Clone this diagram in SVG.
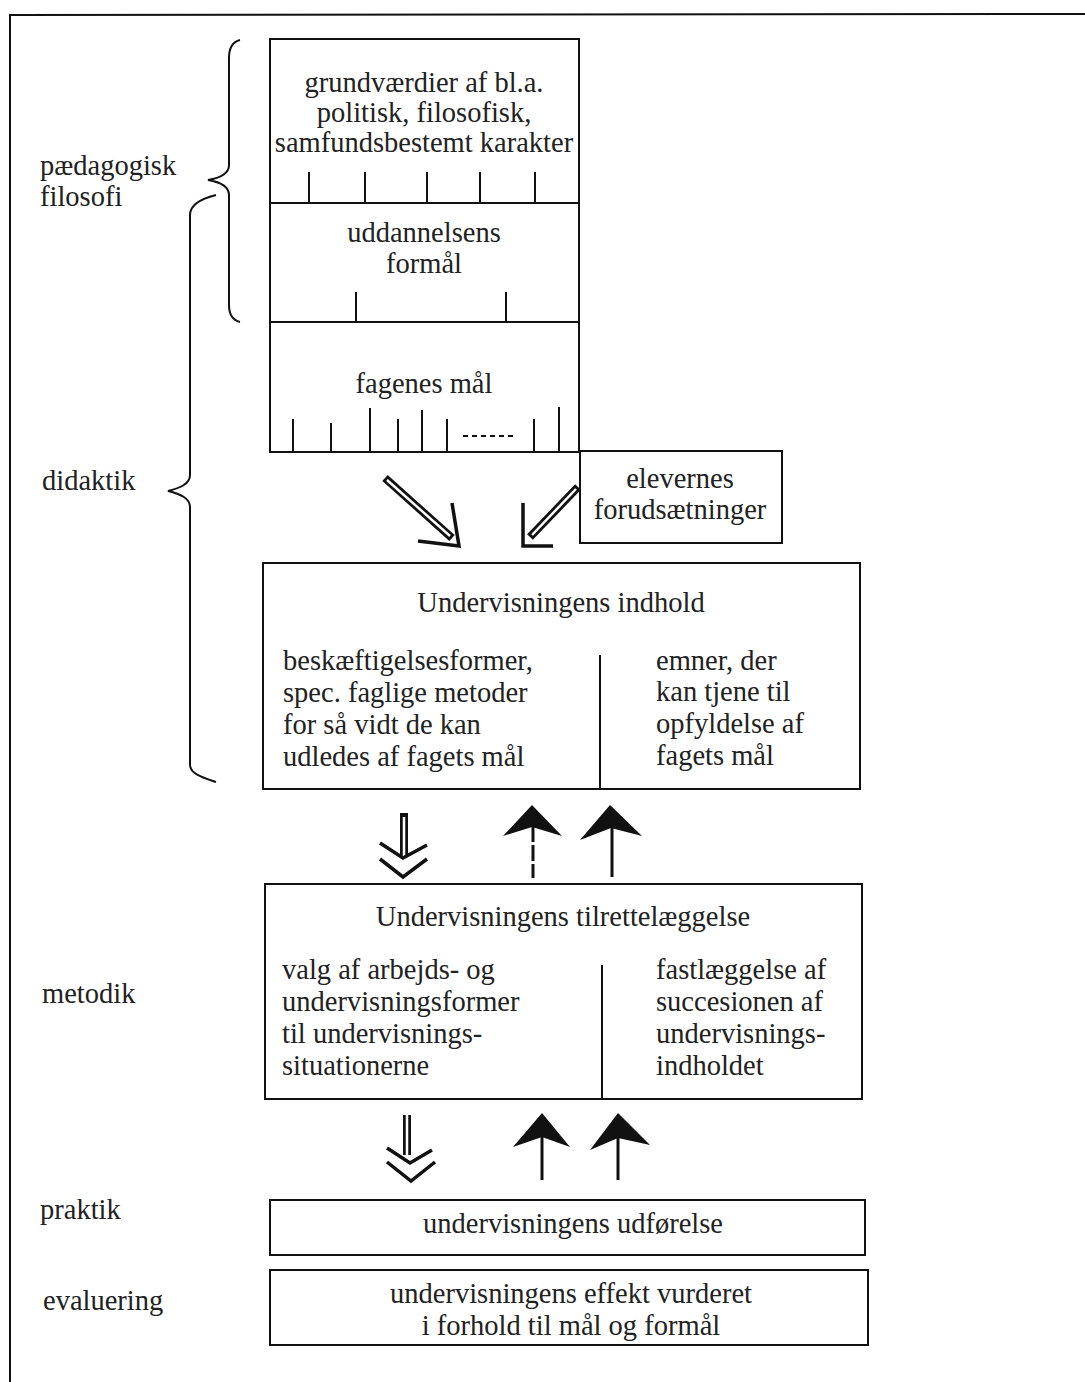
<svg xmlns="http://www.w3.org/2000/svg" width="1085" height="1382" viewBox="0 0 1085 1382">
<style>
  .t{font-family:"Liberation Serif","Times New Roman",serif;font-size:28.5px;fill:#222}
  .c{text-anchor:middle}
  .ln{fill:none;stroke:#111;stroke-width:2}
  .tk{stroke:#111;stroke-width:2}
  .box{fill:#fff;stroke:#111;stroke-width:2}
  .hs{fill:none;stroke:#111;stroke-width:8}
  .hw{fill:none;stroke:#fff;stroke-width:2.5}
  .hd{fill:none;stroke:#111;stroke-width:3.5;stroke-linejoin:miter}
  .fh{fill:#111;stroke:none}
  .fs{stroke:#111;stroke-width:3}
</style>
<rect width="1085" height="1382" fill="#fff"/>

<g id="frame">
  <path class="ln" d="M1085,14 L10,15 L10,1382" stroke-width="2.5"/>
</g>

<g id="labels">
  <text class="t" x="40" y="175">pædagogisk</text>
  <text class="t" x="40" y="206">filosofi</text>
  <text class="t" x="42" y="490">didaktik</text>
  <text class="t" x="42" y="1003">metodik</text>
  <text class="t" x="40" y="1219">praktik</text>
  <text class="t" x="43" y="1310">evaluering</text>
</g>

<g id="braces">
  <path class="ln" d="M240,40 C232,42 229,48 229,58 L229,165 C229,174 220,178 208,180 C220,182 229,186 229,195 L229,305 C229,314 232,320 240,322"/>
  <path class="ln" d="M216,195 C204,198 190,204 190,215 L190,475 C190,484 180,488 168,491 C180,494 190,498 190,507 L190,765 C190,774 204,778 216,782"/>
</g>

<g id="node-grundvaerdier">
  <rect class="box" x="270" y="39" width="309" height="164"/>
  <text class="t c" x="424" y="92">grundværdier af bl.a.</text>
  <text class="t c" x="424" y="122">politisk, filosofisk,</text>
  <text class="t c" x="424" y="152">samfundsbestemt karakter</text>
  <line class="tk" x1="309" y1="172" x2="309" y2="203"/>
  <line class="tk" x1="365" y1="172" x2="365" y2="203"/>
  <line class="tk" x1="427" y1="172" x2="427" y2="203"/>
  <line class="tk" x1="480" y1="172" x2="480" y2="203" stroke-width="3"/>
  <line class="tk" x1="535" y1="172" x2="535" y2="203"/>
</g>

<g id="node-uddannelsens">
  <rect class="box" x="270" y="203" width="309" height="119"/>
  <text class="t c" x="424" y="242">uddannelsens</text>
  <text class="t c" x="424" y="273">formål</text>
  <line class="tk" x1="356" y1="292" x2="356" y2="322" stroke-width="3"/>
  <line class="tk" x1="506" y1="292" x2="506" y2="322"/>
</g>

<g id="node-fagenes">
  <rect class="box" x="270" y="322" width="309" height="130"/>
  <text class="t c" x="424" y="393">fagenes mål</text>
  <line class="tk" x1="293" y1="419" x2="293" y2="452"/>
  <line class="tk" x1="331" y1="423" x2="331" y2="452" stroke-width="3"/>
  <line class="tk" x1="370" y1="408" x2="370" y2="452"/>
  <line class="tk" x1="398" y1="419" x2="398" y2="452" stroke-width="3"/>
  <line class="tk" x1="422" y1="410" x2="422" y2="452" stroke-width="3"/>
  <line class="tk" x1="447" y1="419" x2="447" y2="452"/>
  <line class="tk" x1="463" y1="436" x2="513" y2="436" stroke-dasharray="5 4"/>
  <line class="tk" x1="534" y1="419" x2="534" y2="452" stroke-width="3"/>
  <line class="tk" x1="559" y1="407" x2="559" y2="452"/>
</g>

<g id="node-elevernes">
  <rect class="box" x="580" y="451" width="202" height="92"/>
  <text class="t c" x="680" y="488">elevernes</text>
  <text class="t c" x="680" y="519">forudsætninger</text>
</g>

<g id="node-indhold">
  <rect class="box" x="263" y="563" width="597" height="226"/>
  <line class="ln" x1="600" y1="655" x2="600" y2="789"/>
  <text class="t c" x="561" y="612">Undervisningens indhold</text>
  <text class="t" x="283" y="670">beskæftigelsesformer,</text>
  <text class="t" x="283" y="702">spec. faglige metoder</text>
  <text class="t" x="283" y="734">for så vidt de kan</text>
  <text class="t" x="283" y="766">udledes af fagets mål</text>
  <text class="t" x="656" y="670">emner, der</text>
  <text class="t" x="656" y="701">kan tjene til</text>
  <text class="t" x="656" y="733">opfyldelse af</text>
  <text class="t" x="656" y="765">fagets mål</text>
</g>

<g id="node-tilrettelaeggelse">
  <rect class="box" x="265" y="884" width="597" height="215"/>
  <line class="ln" x1="602" y1="965" x2="602" y2="1099"/>
  <text class="t c" x="563" y="926">Undervisningens tilrettelæggelse</text>
  <text class="t" x="282" y="979">valg af arbejds- og</text>
  <text class="t" x="282" y="1011">undervisningsformer</text>
  <text class="t" x="282" y="1043">til undervisnings-</text>
  <text class="t" x="282" y="1075">situationerne</text>
  <text class="t" x="656" y="979">fastlæggelse af</text>
  <text class="t" x="656" y="1011">succesionen af</text>
  <text class="t" x="656" y="1043">undervisnings-</text>
  <text class="t" x="656" y="1075">indholdet</text>
</g>

<g id="node-udfoerelse">
  <rect class="box" x="270" y="1200" width="595" height="55"/>
  <text class="t c" x="573" y="1233">undervisningens udførelse</text>
</g>

<g id="node-evaluering">
  <rect class="box" x="270" y="1270" width="598" height="75"/>
  <text class="t c" x="571" y="1303">undervisningens effekt vurderet</text>
  <text class="t c" x="571" y="1335">i forhold til mål og formål</text>
</g>

<g id="connectors">
  <line class="hs" x1="385" y1="478" x2="452" y2="538"/>
  <line class="hw" x1="387" y1="480" x2="450" y2="536"/>
  <polyline class="hd" points="452,503 459,546 418,541"/>
  <line class="hs" x1="578" y1="487" x2="530" y2="537"/>
  <line class="hw" x1="576" y1="489" x2="532" y2="535"/>
  <polyline class="hd" points="523,503 523,546 553,546"/>

  <line class="hs" x1="404" y1="813" x2="404" y2="856"/>
  <line class="hw" x1="404" y1="817" x2="404" y2="856"/>
  <polyline class="hd" points="380,843 403,858 427,845"/>
  <polyline class="hd" points="380,859 403,877 427,859"/>
  <path class="fh" d="M532,805 L562,836 L532,827 L503,836 Z"/>
  <line class="fs" x1="533" y1="826" x2="533" y2="878" stroke-dasharray="16 3"/>
  <path class="fh" d="M610,805 L642,836 L611,828 L580,840 Z"/>
  <line class="fs" x1="612" y1="826" x2="612" y2="877"/>

  <line class="hs" x1="407" y1="1115" x2="407" y2="1155"/>
  <line class="hw" x1="407" y1="1115" x2="407" y2="1155"/>
  <polyline class="hd" points="387,1148 410,1163 432,1150"/>
  <polyline class="hd" points="387,1162 411,1181 435,1162"/>
  <path class="fh" d="M542,1113 L570,1147 L542,1137 L513,1147 Z"/>
  <line class="fs" x1="542" y1="1136" x2="542" y2="1180"/>
  <path class="fh" d="M618,1113 L650,1145 L618,1138 L590,1150 Z"/>
  <line class="fs" x1="618" y1="1137" x2="618" y2="1180"/>
</g>
</svg>
